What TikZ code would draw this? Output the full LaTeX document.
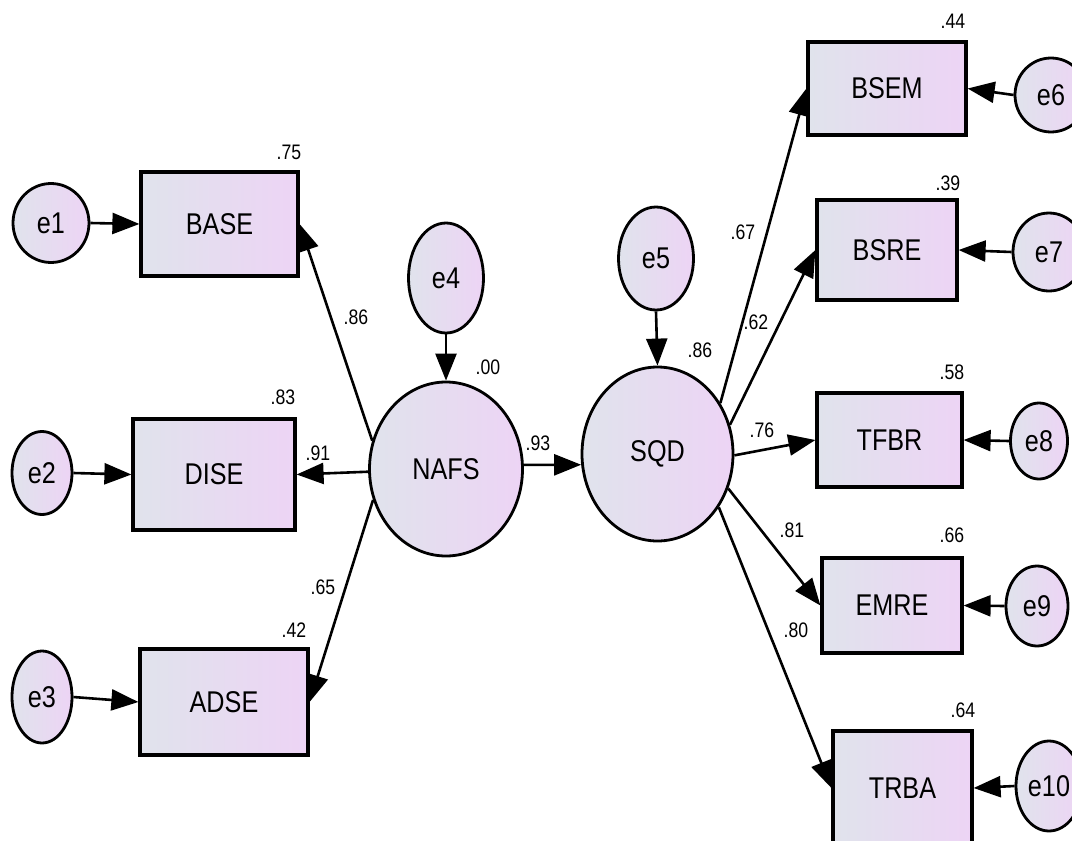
\documentclass[tikz,border=0pt]{standalone}
\usepackage{fontspec}
\setmainfont{Liberation Sans}[FakeStretch=0.84]
\usetikzlibrary{shapes.geometric,arrows.meta}

\definecolor{fillL}{RGB}{224,227,236}
\definecolor{fillR}{RGB}{237,212,245}

\tikzset{
  obs/.style={rectangle, draw=black, line width=3.2pt, left color=fillL, right color=fillR,
              inner sep=0pt, font=\fontsize{30}{32}\selectfont},
  lat/.style={ellipse, draw=black, line width=2.8pt, left color=fillL, right color=fillR,
              inner sep=0pt, font=\fontsize{30}{32}\selectfont},
  err/.style={ellipse, draw=black, line width=2.8pt, left color=fillL, right color=fillR,
              inner sep=0pt, font=\fontsize{30}{32}\selectfont},
  coef/.style={inner sep=0pt, font=\fontsize{21}{23}\selectfont},
  path/.style={draw=black, line width=2.6pt, -{Triangle[length=27pt,width=21pt]}}
}

\begin{document}
\begin{tikzpicture}[x=1pt, y=-1pt]
\useasboundingbox (0,0) rectangle (1072,841);

% latent factors
\node[lat, minimum width=153pt, minimum height=174pt] (NAFS) at (446,469) {NAFS};
\node[lat, minimum width=151pt, minimum height=174pt] (SQD)  at (657.5,454) {SQD};

% indicators of NAFS
\node[obs, minimum width=157pt, minimum height=104pt] (BASE) at (219.5,224) {BASE};
\node[obs, minimum width=162pt, minimum height=111pt] (DISE) at (214,474.5) {DISE};
\node[obs, minimum width=168pt, minimum height=106pt] (ADSE) at (224,702) {ADSE};

% indicators of SQD
\node[obs, minimum width=158pt, minimum height=93pt]  (BSEM) at (887,88.5) {BSEM};
\node[obs, minimum width=140pt, minimum height=100pt] (BSRE) at (887,250) {BSRE};
\node[obs, minimum width=145pt, minimum height=94pt]  (TFBR) at (889.5,440) {TFBR};
\node[obs, minimum width=140pt, minimum height=95pt]  (EMRE) at (892,605.5) {EMRE};
\node[obs, minimum width=139pt, minimum height=114pt] (TRBA) at (902.5,788) {TRBA};

% error terms
\node[err, minimum width=76pt, minimum height=79pt]  (e1)  at (51,223)  {e1};
\node[err, minimum width=60pt, minimum height=83pt]  (e2)  at (42,473)  {e2};
\node[err, minimum width=60pt, minimum height=92pt]  (e3)  at (42,697)  {e3};
\node[err, minimum width=75pt, minimum height=110pt] (e4)  at (446,278) {e4};
\node[err, minimum width=75pt, minimum height=103pt] (e5)  at (656,258.5) {e5};
\node[err, minimum width=72pt, minimum height=74pt]  (e6)  at (1051,95) {e6};
\node[err, minimum width=72pt, minimum height=78pt]  (e7)  at (1049,252) {e7};
\node[err, minimum width=57pt, minimum height=76pt]  (e8)  at (1039,441) {e8};
\node[err, minimum width=62pt, minimum height=80pt]  (e9)  at (1037,606) {e9};
\node[err, minimum width=66pt, minimum height=90pt]  (e10) at (1049,786) {e10};

% structural paths
\draw[path] (NAFS.159) -- (BASE.east);
\draw[path] (NAFS.182) -- (DISE.east);
\draw[path] (NAFS.203) -- (ADSE.east);
\draw[path] (NAFS.3)   -- (SQD.188);
\draw[path] (SQD.39)   -- (BSEM.west);
\draw[path] (SQD.22)   -- (BSRE.west);
\draw[path] (SQD.-1)   -- (TFBR.west);
\draw[path] (SQD.-26)  -- (EMRE.west);
\draw[path] (SQD.-41)  -- (TRBA.west);

% error paths
\draw[path] (e1.east)  -- (BASE.west);
\draw[path] (e2.east)  -- (DISE.west);
\draw[path] (e3.east)  -- (ADSE.west);
\draw[path] (e4.south) -- (NAFS.north);
\draw[path] (e5.south) -- (SQD.north);
\draw[path] (e6.west)  -- (BSEM.east);
\draw[path] (e7.west)  -- (BSRE.east);
\draw[path] (e8.west)  -- (TFBR.east);
\draw[path] (e9.west)  -- (EMRE.east);
\draw[path] (e10.west) -- (TRBA.east);

% squared multiple correlations
\node[coef] (r2BASE) at (289,152) {.75};
\node[coef] (r2DISE) at (283,397) {.83};
\node[coef] (r2ADSE) at (294,630) {.42};
\node[coef] (r2BSEM) at (953,21)  {.44};
\node[coef] (r2BSRE) at (948,183) {.39};
\node[coef] (r2TFBR) at (952,372) {.58};
\node[coef] (r2EMRE) at (952,535) {.66};
\node[coef] (r2TRBA) at (963,710) {.64};
\node[coef] (r2NAFS) at (488,367) {.00};
\node[coef] (r2SQD)  at (700,350) {.86};

% standardized loadings
\node[coef] (wBASE) at (356,317) {.86};
\node[coef] (wDISE) at (318,453) {.91};
\node[coef] (wADSE) at (323,587) {.65};
\node[coef] (wSQD)  at (538,443) {.93};
\node[coef] (wBSEM) at (743,232) {.67};
\node[coef] (wBSRE) at (756,322) {.62};
\node[coef] (wTFBR) at (762,430) {.76};
\node[coef] (wEMRE) at (792,530) {.81};
\node[coef] (wTRBA) at (796,630) {.80};
\end{tikzpicture}
\end{document}
